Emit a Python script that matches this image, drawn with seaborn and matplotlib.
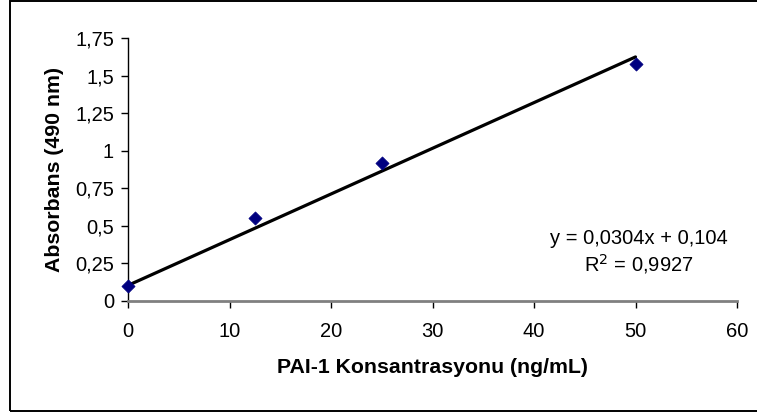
import matplotlib
matplotlib.use("Agg")
import matplotlib.pyplot as plt
from matplotlib.patches import Rectangle
import seaborn as sns
import pandas as pd
import numpy as np

# Standard curve measurements
concentration = [0, 12.5, 25, 50]          # ng/mL
absorbance = [0.10, 0.554, 0.916, 1.579]   # 490 nm

# Linear trend line coefficients
slope = 0.0304
intercept = 0.104
r_squared = 0.9927

x_ticks = [0, 10, 20, 30, 40, 50, 60]
y_ticks = [0, 0.25, 0.5, 0.75, 1, 1.25, 1.5, 1.75]


def comma(v):
    s = f"{v:g}"
    return s.replace(".", ",")


sns.set_theme(style="white")
plt.rcParams["font.family"] = ["Liberation Sans", "DejaVu Sans"]

W, H = 757, 415
fig = plt.figure(figsize=(W / 100, H / 100), dpi=100)
ax = fig.add_axes([128 / W, 1 - 301 / H, (737 - 128) / W, (301 - 38) / H])

df = pd.DataFrame({"x": concentration, "y": absorbance})

# Trend line over the measured range
fit_x = np.array([min(concentration), max(concentration)])
fit = pd.DataFrame({"x": fit_x, "y": intercept + slope * fit_x})
sns.lineplot(data=fit, x="x", y="y", ax=ax, color="black", linewidth=2.3,
             zorder=2, clip_on=False)

sns.scatterplot(data=df, x="x", y="y", ax=ax, marker="D", s=45,
                color="#000080", edgecolor="#000080", linewidth=0.5,
                zorder=3, clip_on=False)

ax.set_xlim(0, 60)
ax.set_ylim(0, 1.75)
ax.set_xticks(x_ticks)
ax.set_yticks(y_ticks)
ax.set_xticklabels([comma(v) for v in x_ticks])
ax.set_yticklabels([comma(v) for v in y_ticks])

for side in ("top", "right"):
    ax.spines[side].set_visible(False)
ax.spines["left"].set_color("black")
ax.spines["left"].set_linewidth(1.0)
ax.spines["bottom"].set_color("#808080")
ax.spines["bottom"].set_linewidth(2.0)

ax.tick_params(axis="y", which="major", direction="out", length=5, width=1,
               color="black", labelsize=14.5, pad=5, left=True, labelcolor="black")
ax.tick_params(axis="x", which="major", direction="out", length=5, width=1,
               color="black", labelsize=14.5, pad=10, bottom=True, labelcolor="black")

ax.set_xlabel("PAI-1 Konsantrasyonu (ng/mL)", fontsize=15.3, fontweight="bold",
              color="black", labelpad=12)
ax.set_ylabel("Absorbans (490 nm)", fontsize=15.3, fontweight="bold",
              color="black", labelpad=8)

ax.text(639 / W, 1 - 238 / H, f"y = {comma(slope)}x + {comma(intercept)}",
        transform=fig.transFigure, ha="center", va="center", fontsize=14.5,
        color="black")
ax.text(639 / W, 1 - 264 / H, f"R$^2$ = {comma(r_squared)}",
        transform=fig.transFigure, ha="center", va="center", fontsize=14.5,
        color="black")

# Chart-area frame
fig.patches.append(Rectangle((10 / W, 1 - 411 / H), (W + 20) / W, (410 - 0.5) / H,
                             transform=fig.transFigure, fill=False,
                             edgecolor="black", linewidth=1.4))

fig.savefig("out.png", dpi=100, facecolor="white")
